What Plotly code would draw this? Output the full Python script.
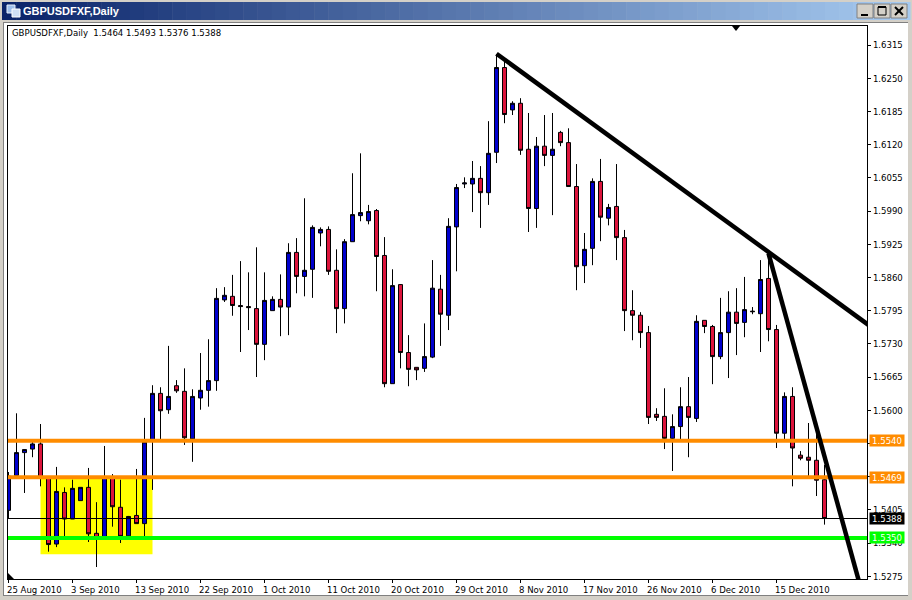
import plotly.graph_objects as go

symbol = "GBPUSDFXF,Daily"
opens = [1.5404,1.5472,1.5517,1.5524,1.5534,1.5468,1.5338,1.5439,1.5387,1.5423,1.5449,1.5359,1.5350,1.5468,1.5410,1.5354,1.5394,1.5378,1.5541,1.5633,
1.5601,1.5648,1.5637,1.5544,1.5624,1.5639,1.5658,1.5816,1.5823,1.5805,1.5803,1.5799,1.5729,1.5795,1.5817,1.5802,1.5909,1.5862,1.5876,1.5947,
1.5954,1.5874,1.5799,1.5930,1.5981,1.5971,1.5991,1.5903,1.5652,1.5846,1.5713,1.5684,1.5682,1.5704,1.5837,1.5786,1.5959,1.6043,1.6043,1.6054,
1.6026,1.6105,1.6271,1.6188,1.6201,1.6111,1.5995,1.6117,1.6099,1.6144,1.6124,1.6038,1.5883,1.5917,1.6048,1.5976,1.5999,1.5938,1.5795,1.5786,
1.5752,1.5592,1.5588,1.5545,1.5568,1.5607,1.5584,1.5776,1.5764,1.5705,1.5752,1.5792,1.5772,1.5794,1.5789,1.5858,1.5758,1.5555,1.5627,1.5512,
1.5508,1.5502,1.5464]
highs = [1.5479,1.5594,1.5524,1.5543,1.5573,1.5469,1.5489,1.5449,1.5464,1.5449,1.5487,1.5420,1.5530,1.5475,1.5464,1.5393,1.5485,1.5585,1.5649,1.5645,
1.5726,1.5659,1.5682,1.5641,1.5712,1.5739,1.5839,1.5841,1.5865,1.5892,1.5870,1.5919,1.5870,1.5823,1.5866,1.5927,1.5937,1.6015,1.5962,1.5958,
1.5960,1.5915,1.5935,1.6064,1.6103,1.6002,1.5994,1.5939,1.5876,1.5847,1.5747,1.5684,1.5770,1.5894,1.5865,1.5976,1.6043,1.6056,1.6088,1.6078,
1.6166,1.6297,1.6282,1.6205,1.6211,1.6182,1.6135,1.6178,1.6182,1.6147,1.6152,1.6082,1.5947,1.6054,1.6092,1.6004,1.6082,1.5953,1.5835,1.5792,
1.5765,1.5604,1.5643,1.5592,1.5645,1.5665,1.5786,1.5776,1.5767,1.5820,1.5833,1.5839,1.5861,1.5802,1.5894,1.5908,1.5767,1.5635,1.5645,1.5520,
1.5575,1.5559,1.5493]
lows = [1.5387,1.5471,1.5438,1.5508,1.5451,1.5323,1.5332,1.5352,1.5387,1.5423,1.5342,1.5293,1.5350,1.5372,1.5340,1.5352,1.5378,1.5352,1.5444,1.5541,
1.5593,1.5634,1.5532,1.5499,1.5601,1.5607,1.5638,1.5812,1.5785,1.5714,1.5757,1.5665,1.5698,1.5795,1.5745,1.5747,1.5829,1.5823,1.5820,1.5921,
1.5865,1.5751,1.5770,1.5930,1.5970,1.5964,1.5833,1.5645,1.5652,1.5682,1.5647,1.5659,1.5675,1.5702,1.5726,1.5757,1.5872,1.6035,1.5988,1.5957,
1.6002,1.6084,1.6162,1.6178,1.6100,1.5949,1.5957,1.6078,1.5982,1.6117,1.6038,1.5835,1.5849,1.5884,1.5931,1.5962,1.5894,1.5755,1.5737,1.5722,
1.5573,1.5579,1.5524,1.5481,1.5543,1.5508,1.5577,1.5751,1.5651,1.5700,1.5663,1.5708,1.5743,1.5788,1.5714,1.5735,1.5526,1.5541,1.5451,1.5502,
1.5467,1.5432,1.5376]
closes = [1.5471,1.5517,1.5523,1.5534,1.5467,1.5337,1.5441,1.5387,1.5447,1.5449,1.5358,1.5348,1.5469,1.5411,1.5353,1.5392,1.5378,1.5538,1.5633,1.5599,
1.5627,1.5638,1.5546,1.5627,1.5639,1.5658,1.5819,1.5825,1.5805,1.5803,1.5801,1.5729,1.5815,1.5817,1.5802,1.5909,1.5862,1.5874,1.5958,1.5954,
1.5872,1.5799,1.5930,1.5983,1.5987,1.5989,1.5901,1.5652,1.5844,1.5713,1.5680,1.5679,1.5705,1.5839,1.5788,1.5960,1.6036,1.6045,1.6054,1.6026,
1.6103,1.6271,1.6179,1.6201,1.6109,1.5995,1.6117,1.6099,1.6111,1.6124,1.6038,1.5881,1.5915,1.6048,1.5978,1.5997,1.5938,1.5795,1.5786,1.5752,
1.5586,1.5586,1.5545,1.5568,1.5607,1.5586,1.5774,1.5764,1.5705,1.5752,1.5792,1.5770,1.5797,1.5793,1.5856,1.5758,1.5555,1.5627,1.5526,1.5506,
1.5502,1.5463,1.5388]
bars = list(range(len(opens)))

date_ticks = [0,8,16,24,32,40,48,56,64,72,80,88,96]
date_labels = ["25 Aug 2010","3 Sep 2010","13 Sep 2010","22 Sep 2010","1 Oct 2010","11 Oct 2010","20 Oct 2010",
               "29 Oct 2010","8 Nov 2010","17 Nov 2010","26 Nov 2010","6 Dec 2010","15 Dec 2010"]
price_ticks = [1.6315,1.6250,1.6185,1.6120,1.6055,1.5990,1.5925,1.5860,1.5795,1.5730,1.5665,1.5600,1.5535,1.5470,1.5405,1.5340,1.5275]
price_labels = ["1.6315","1.6250","1.6185","1.6120","1.6055","1.5990","1.5925","1.5860","1.5795","1.5730","1.5665","1.5600","","","1.5405","1.5340","1.5275"]

support_levels = [1.5540,1.5469]
green_level = 1.5350
last_close = 1.5388
yellow_box_bars = [4,18]
yellow_box_prices = [1.5469,1.5318]
trend_a_bars = [61,107.5]
trend_a_prices = [1.6298,1.5767]
trend_b_bars = [95,106.5]
trend_b_prices = [1.5907,1.5254]

W,H = 912,600
L,R,T,B = 8,867,26,579
FONT = "DejaVu Sans Condensed, Liberation Sans, sans-serif"
FS = 9.5
GRAY = "#d4d0c8"
px = lambda x: (x-L)/(R-L)
py = lambda y: (B-y)/(B-T)

def box(x0,y0,x1,y1,fill,line=None,lw=1):
    return dict(type="rect",xref="paper",yref="paper",x0=px(x0),x1=px(x1),y0=py(y1),y1=py(y0),
                fillcolor=fill,line=dict(color=line or fill,width=lw if line else 0),layer="below")
def seg(x0,y0,x1,y1,c="#000000",lw=1):
    return dict(type="line",xref="paper",yref="paper",x0=px(x0),x1=px(x1),y0=py(y0),y1=py(y1),
                line=dict(color=c,width=lw),layer="above")
def poly(pts,fill):
    d = "M"+" L".join(f"{px(a):.5f},{py(b):.5f}" for a,b in pts)+" Z"
    return dict(type="path",xref="paper",yref="paper",path=d,fillcolor=fill,line=dict(width=0),layer="above")

shapes = []
# window frame
n = 64
c0,c1 = (10,36,106),(166,202,240)
for k in range(n):
    t = k/(n-1)
    col = "rgb(%d,%d,%d)"%tuple(round(a+(b-a)*t) for a,b in zip(c0,c1))
    shapes.append(box(2+k*908/n,2,2+(k+1)*908/n+0.5,20,col))
shapes.append(box(3,22,908,596,"#808080"))
shapes.append(box(4,23,908,595,"#ffffff"))
# title icon
shapes.append(box(7,5,15,13,"#9fc0ec","#e8f0fb",1))
shapes.append(box(12,9,20,17,"#cfe0f6","#ffffff",1))
# window buttons
for bx in (857,874,891):
    shapes.append(box(bx,4,bx+16,18,GRAY,"#808080",1))
shapes += [seg(861,15,868,15,lw=2),
           seg(878,7,886,7,lw=2),seg(878,7,878,15),seg(886,7,886,15),seg(878,15,886,15),
           seg(895,7,903,15,lw=2),seg(903,7,895,15,lw=2)]
# chart objects below candles
shapes.append(dict(type="rect",xref="x",yref="y",x0=yellow_box_bars[0],x1=yellow_box_bars[1],
                   y0=yellow_box_prices[1],y1=yellow_box_prices[0],fillcolor="#ffff00",line=dict(width=0),layer="below"))
# chart objects above candles
shapes.append(dict(type="line",xref="paper",yref="y",x0=0,x1=1,y0=last_close,y1=last_close,line=dict(color="#000000",width=1)))
for lv in support_levels:
    shapes.append(dict(type="line",xref="paper",yref="y",x0=0,x1=1,y0=lv,y1=lv,line=dict(color="#ff8c00",width=4)))
shapes.append(dict(type="line",xref="paper",yref="y",x0=0,x1=1,y0=green_level,y1=green_level,line=dict(color="#00ff00",width=4)))
for bx,pr in ((trend_a_bars,trend_a_prices),(trend_b_bars,trend_b_prices)):
    shapes.append(dict(type="line",xref="x",yref="y",x0=bx[0],x1=bx[1],y0=pr[0],y1=pr[1],line=dict(color="#000000",width=4.5)))
# chart-shift markers
shapes.append(poly([(732,26),(740,26),(736,31)],"#000000"))
shapes.append(poly([(8,573),(8,579),(14,579)],"#000000"))

annotations = []
annotations.append(dict(xref="paper",yref="paper",x=px(21),y=py(11),text="<b>%s</b>"%symbol,showarrow=False,
                        xanchor="left",yanchor="middle",font=dict(family="Liberation Sans",size=11,color="#ffffff")))
annotations.append(dict(xref="paper",yref="paper",x=px(10),y=py(33),showarrow=False,xanchor="left",yanchor="middle",
                        text="%s\u00a0\u00a0%.4f %.4f %.4f %.4f"%(symbol,opens[-1],highs[-1],lows[-1],closes[-1]),
                        font=dict(family=FONT,size=FS,color="#000000")))
for i,lab in zip(date_ticks,date_labels):
    annotations.append(dict(xref="x",yref="paper",x=i,y=py(589),xshift=-4,text=lab,showarrow=False,
                            xanchor="left",yanchor="middle",font=dict(family=FONT,size=FS,color="#000000")))
for lv,bg in [(support_levels[0],"#ff8c00"),(support_levels[1],"#ff8c00"),(last_close,"#000000"),(green_level,"#00ff00")]:
    annotations.append(dict(xref="paper",yref="y",x=px(869),y=lv,text="%.4f"%lv,showarrow=False,xanchor="left",
                            yanchor="middle",width=34,height=11,borderpad=0,bgcolor=bg,align="center",
                            font=dict(family=FONT,size=FS,color="#ffffff")))

fig = go.Figure(go.Candlestick(
    x=bars,open=opens,high=highs,low=lows,close=closes,
    increasing=dict(line=dict(color="#000000",width=1),fillcolor="#0000cd"),
    decreasing=dict(line=dict(color="#000000",width=1),fillcolor="#dc143c"),
    whiskerwidth=0,hoverinfo="skip",showlegend=False))

Y_OFFSET = 1.14
fig.update_layout(
    width=W,height=H,margin=dict(l=L,r=W-R,t=T,b=H-B,autoexpand=False),
    paper_bgcolor=GRAY,plot_bgcolor="#ffffff",boxgap=0.5,boxgroupgap=0,
    shapes=shapes,annotations=annotations,showlegend=False,
    font=dict(family=FONT,size=FS,color="#000000"),
    xaxis=dict(range=[(L-8.5)/8,(R-8.5)/8],rangeslider=dict(visible=False),tickmode="array",tickvals=date_ticks,
               showticklabels=False,ticks="outside",ticklen=3,tickcolor="#000000",showgrid=False,zeroline=False,
               showline=True,linecolor="#000000",linewidth=1,mirror=True),
    yaxis=dict(side="right",range=[1.6401-(B-Y_OFFSET)*0.0001958,1.6401-(T-Y_OFFSET)*0.0001958],tickmode="array",tickvals=price_ticks,
               ticktext=price_labels,ticks="outside",ticklen=3,tickcolor="#000000",showgrid=False,
               zeroline=False,showline=True,linecolor="#000000",linewidth=1,mirror=True,
               tickfont=dict(family=FONT,size=FS,color="#000000")),
)
fig.write_html("out.html",config=dict(displayModeBar=False,staticPlot=True),
               post_script="document.body.style.margin='0';document.body.style.overflow='hidden';")
